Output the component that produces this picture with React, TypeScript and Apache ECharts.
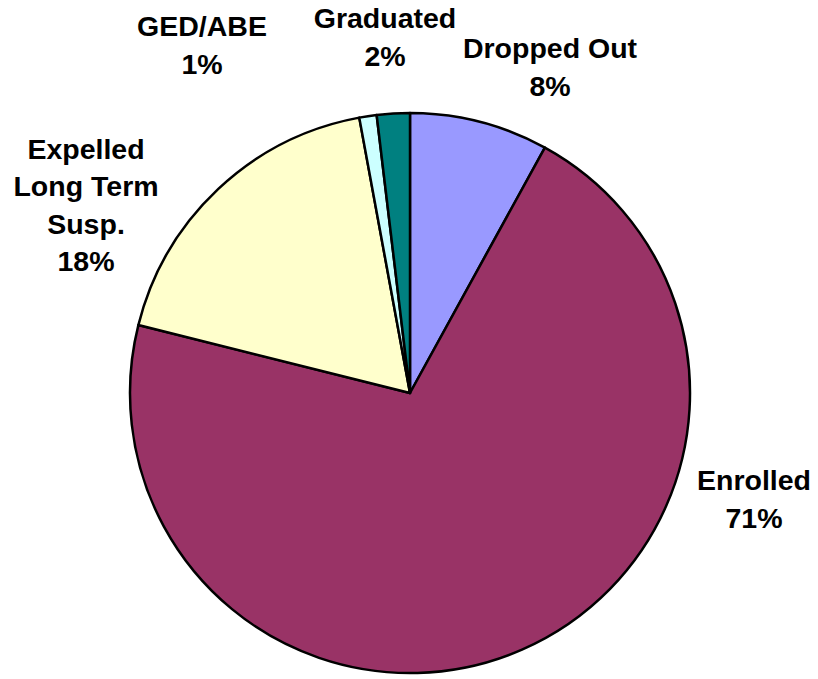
import React, { useEffect, useRef } from "react";
import * as echarts from "echarts";

const categories = ["Dropped Out", "Enrolled", "Expelled\nLong Term\nSusp.", "GED/ABE", "Graduated"];
const values = [8.0, 70.9, 18.2, 1.0, 1.9];
const colors = ["#9999FF", "#993366", "#FFFFCC", "#CCFFFF", "#008080"];
const labelPositions = [
  [550, 67],
  [754, 499],
  [86, 205],
  [202, 45],
  [385, 37],
];

export default function App() {
  const ref = useRef<HTMLDivElement>(null);
  useEffect(() => {
    const chart = echarts.init(ref.current!, null, { renderer: "svg" });
    chart.setOption({
      animation: false,
      backgroundColor: "#ffffff",
      series: [
        {
          type: "pie",
          center: [410, 393],
          radius: 280,
          startAngle: 90,
          clockwise: true,
          percentPrecision: 0,
          itemStyle: { borderColor: "#000000", borderWidth: 2.5 },
          label: {
            show: true,
            position: "outside",
            formatter: "{b}\n{d}%",
            fontFamily: "Liberation Sans, Arial, sans-serif",
            fontWeight: "bold",
            fontSize: 28.5,
            lineHeight: 37.5,
            color: "#000000",
            align: "center",
            overflow: "none",
            width: 300,
          },
          labelLine: { show: false },
          labelLayout: (params: any) => {
            const p = labelPositions[params.dataIndex];
            return { x: p[0], y: p[1], align: "center", verticalAlign: "middle" };
          },
          data: categories.map((name, i) => ({
            name,
            value: values[i],
            itemStyle: { color: colors[i] },
          })),
        },
      ],
    });
    return () => chart.dispose();
  }, []);
  return (
    <div
      ref={ref}
      style={{ position: "absolute", left: 0, top: 0, width: 818, height: 679 }}
    />
  );
}
